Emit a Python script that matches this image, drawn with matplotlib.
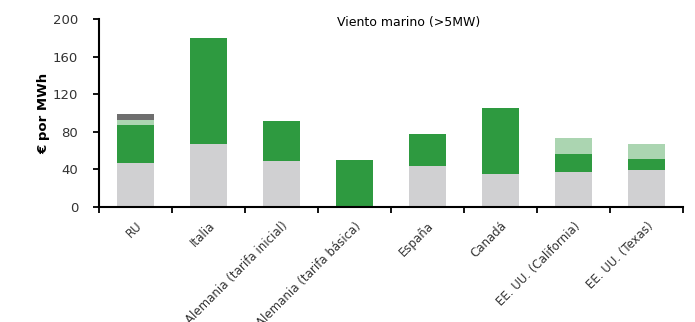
import numpy as np
import matplotlib.pyplot as plt

categories = ['RU', 'Italia', 'Alemania (tarifa inicial)', 'Alemania (tarifa básica)',
              'España', 'Canadá', 'EE. UU. (California)', 'EE. UU. (Texas)']
base = [46.5, 67, 49, 0, 43.5, 35, 37.5, 39]
green = [40.5, 113, 42.5, 50, 34, 70, 19, 12]
light = [5.5, 0, 0, 0, 0, 0, 17, 16.5]
dark = [6.5, 0, 0, 0, 0, 0, 0, 0]

fig = plt.figure(figsize=(6.95, 3.22), dpi=100)
ax = fig.add_axes([0.1424, 0.357, 0.8403, 0.584])

x = np.arange(len(categories))
w = 0.5
b = np.array(base)
g = np.array(green)
l = np.array(light)
d = np.array(dark)
ax.bar(x, b, w, color='#d0d0d2')
ax.bar(x, g, w, bottom=b, color='#2e9a40')
ax.bar(x, l, w, bottom=b + g, color='#abd5b1')
ax.bar(x, d, w, bottom=b + g + l, color='#6e6e6e')

ax.set_xlim(-0.5, len(categories) - 0.5)
ax.set_ylim(0, 200)
ax.set_yticks([0, 40, 80, 120, 160, 200])
ax.set_xticks(np.arange(len(categories) + 1) - 0.5)
ax.set_xticklabels([])
ax.set_xticks(x, minor=True)
ax.set_xticklabels(categories, minor=True, rotation=45, ha='right',
                   rotation_mode='anchor', fontsize=8.5, color='#333333')
ax.tick_params(axis='x', which='minor', length=0, pad=9)
ax.tick_params(axis='x', which='major', direction='out', length=4, width=1.3)
ax.tick_params(axis='y', direction='out', length=4, width=1.3, labelsize=9.5,
               labelcolor='#333333', pad=11)

for s in ['top', 'right']:
    ax.spines[s].set_visible(False)
for s in ['left', 'bottom']:
    ax.spines[s].set_linewidth(1.5)

ax.set_ylabel('€ por MWh', fontsize=9.5, fontweight='bold', labelpad=2)
ax.text(0.53, 0.984, 'Viento marino (>5MW)', transform=ax.transAxes,
        ha='center', va='center', fontsize=9)

fig.savefig('out.png', dpi=100)
